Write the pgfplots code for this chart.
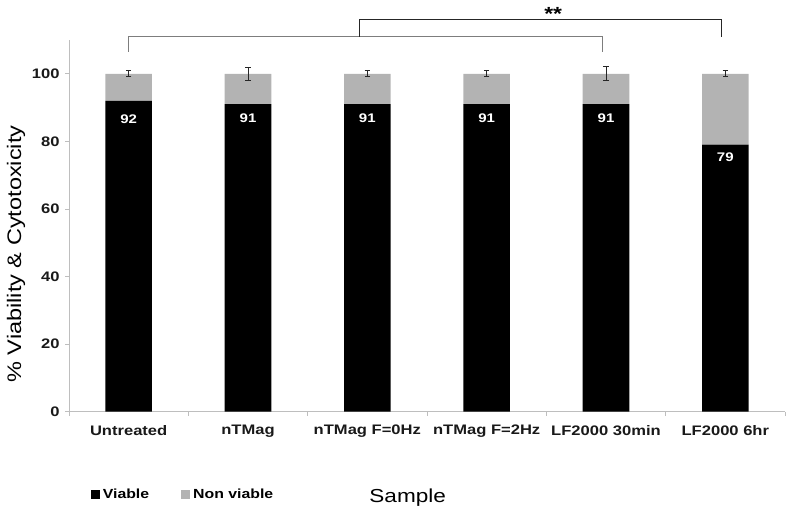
\documentclass[border=0pt]{standalone}
\usepackage{fontspec}
\setmainfont{Liberation Sans}[FakeStretch=1.2]
\usepackage{pgfplots}
\pgfplotsset{compat=1.18}
\definecolor{barGray}{RGB}{179,179,179}
\definecolor{axGray}{RGB}{190,190,190}
\definecolor{brGray}{RGB}{125,125,125}
\begin{document}
\begin{tikzpicture}
\path[use as bounding box] (0,0) rectangle (790pt,514pt);
\pgfplotsset{
  common/.style={
    scale only axis, width=716pt, height=371.7pt,
    at={(69pt,102.3pt)}, anchor=south west,
    xmin=-0.5, xmax=5.5, ymin=0, ymax=110,
  }
}
\begin{axis}[common,
  ybar stacked, bar width=46.6pt,
  axis x line*=bottom, axis y line*=left,
  axis line style={draw=axGray, line width=0.8pt},
  tick style={draw=axGray, line width=0.8pt},
  tick align=outside, major tick length=4pt,
  ytick={0,20,...,100},
  xtick={0,...,5},
  xticklabels={Untreated,nTMag,nTMag F=0Hz,nTMag F=2Hz,LF2000 30min,LF2000 6hr},
  major x tick style={draw=none},
  extra x ticks={-0.5,0.5,1.5,2.5,3.5,4.5,5.5},
  extra x tick labels={},
  extra x tick style={major x tick style={draw=axGray, line width=0.8pt}},
  /pgf/number format/assume math mode=true,
  tick label style={font=\bfseries\fontsize{13.8}{16}\selectfont, text=black!90},
  yticklabel style={xshift=-2pt},
  xticklabel style={yshift=-6pt},
  xlabel={Sample},
  xlabel style={at={(axis description cs:0.473,-0.232)}, anchor=center, font=\fontsize{18.8}{22}\selectfont},
  ylabel={\% Viability \& Cytotoxicity},
  ylabel style={at={(axis description cs:-0.074,0.424)}, anchor=center, font=\fontsize{19.6}{22}\selectfont},
  legend style={at={(axis description cs:0.026,-0.224)}, anchor=west, draw=none,
    font=\bfseries\fontsize{13.2}{16}\selectfont, legend columns=2,
    /tikz/every odd column/.append style={column sep=1pt},
    /tikz/every even column/.append style={column sep=30pt}},
  legend image code/.code={\path[#1, draw=none] (0pt,-4.5pt) rectangle (9pt,4.5pt);},
]
\addplot[fill=black, draw=none] coordinates {(0,92) (1,91) (2,91) (3,91) (4,91) (5,79)};
\addplot[fill=barGray, draw=none] coordinates {(0,8) (1,9) (2,9) (3,9) (4,9) (5,21)};
\legend{Viable, Non viable}
\end{axis}
\begin{axis}[common, hide axis, clip=false]
\addplot[draw=none, forget plot,
  error bars/.cd, y dir=both, y explicit,
  error bar style={draw=black!85, line width=0.9pt},
  error mark options={rotate=90, mark size=2.7pt, draw=black!85, line width=0.9pt}]
  coordinates {(0,100) +- (0,0.9) (1,100) +- (0,2.0) (2,100) +- (0,0.9) (3,100) +- (0,0.9) (4,100) +- (0,2.1) (5,100) +- (0,0.9)};
\addplot[brGray, line width=0.9pt, mark=none] coordinates {(0,106.5) (0,110.9) (3.97,110.9) (3.97,106.5)};
\addplot[black!85, line width=0.9pt, mark=none] coordinates {(1.93,110.9) (1.93,116.0) (4.97,116.0) (4.97,110.9)};
\node[font=\bfseries\fontsize{19}{22}\selectfont] at (axis cs:3.557,117.8) {**};
\node[text=white, font=\bfseries\fontsize{12.5}{15}\selectfont] at (axis cs:0,86.6) {92};
\node[text=white, font=\bfseries\fontsize{12.5}{15}\selectfont] at (axis cs:1,87.0) {91};
\node[text=white, font=\bfseries\fontsize{12.5}{15}\selectfont] at (axis cs:2,87.0) {91};
\node[text=white, font=\bfseries\fontsize{12.5}{15}\selectfont] at (axis cs:3,87.0) {91};
\node[text=white, font=\bfseries\fontsize{12.5}{15}\selectfont] at (axis cs:4,87.0) {91};
\node[text=white, font=\bfseries\fontsize{12.5}{15}\selectfont] at (axis cs:5,75.4) {79};
\end{axis}
\end{tikzpicture}
\end{document}
